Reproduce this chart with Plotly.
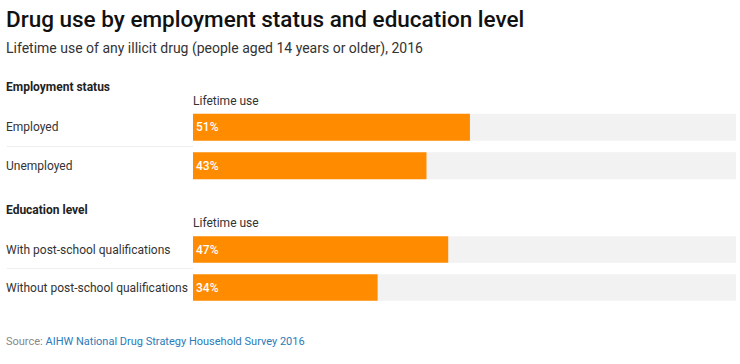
import plotly.graph_objects as go

W, H = 740, 364

emp_categories = ["Employed", "Unemployed"]
emp_values = [51, 43]
edu_categories = ["With post-school qualifications", "Without post-school qualifications"]
edu_values = [47, 34]
max_value = 100
series_name = "Lifetime use"

ORANGE = "#FF8C00"
TRACK = "#F2F2F2"
FONT = "Roboto"
LEFT = 4

def py(px):
    return 1 - px / H

def px_x(px):
    return px / W

fig = go.Figure()

groups = [
    ("x", "y", emp_categories, emp_values),
    ("x2", "y2", edu_categories, edu_values),
]
for xa, ya, cats, vals in groups:
    fig.add_trace(go.Bar(
        y=cats, x=[max_value] * len(cats), orientation="h",
        marker=dict(color=TRACK, line=dict(width=0)),
        xaxis=xa, yaxis=ya, hoverinfo="skip", showlegend=False,
    ))
    fig.add_trace(go.Bar(
        y=cats, x=vals, orientation="h",
        marker=dict(color=ORANGE, line=dict(width=0)),
        text=[f"{v}%" for v in vals], textposition="inside",
        insidetextanchor="start",
        textfont=dict(color="white", size=12, family=FONT, weight=500),
        xaxis=xa, yaxis=ya, showlegend=False, name=series_name,
    ))

x_dom = [px_x(193), px_x(736)]
ax_common = dict(showgrid=False, zeroline=False, showticklabels=False,
                 ticks="", showline=False, fixedrange=True)
fig.update_layout(
    width=W, height=H, margin=dict(l=0, r=0, t=0, b=0),
    paper_bgcolor="white", plot_bgcolor="white",
    barmode="overlay", bargap=0.30,
    font=dict(family=FONT, color="#333"),
    xaxis=dict(domain=x_dom, range=[0, max_value], anchor="y", **ax_common),
    xaxis2=dict(domain=x_dom, range=[0, max_value], anchor="y2", **ax_common),
    yaxis=dict(domain=[py(185), py(108)], autorange="reversed", anchor="x",
               type="category", **ax_common),
    yaxis2=dict(domain=[py(306.5), py(230.5)], autorange="reversed", anchor="x2",
                type="category", **ax_common),
)

ann = []
# title & subtitle
ann.append(dict(text="Drug use by employment status and education level",
                x=px_x(LEFT), y=py(19), xref="paper", yref="paper",
                xanchor="left", yanchor="middle", showarrow=False,
                font=dict(size=22.5, color="#111", family=FONT, weight=500)))
ann.append(dict(text="Lifetime use of any illicit drug (people aged 14 years or older), 2016",
                x=px_x(LEFT), y=py(49), xref="paper", yref="paper",
                xanchor="left", yanchor="middle", showarrow=False,
                font=dict(size=14, color="#333", family=FONT)))
# section headings
for text, ypx in [("Employment status", 87), ("Education level", 210)]:
    ann.append(dict(text=text, x=px_x(LEFT), y=py(ypx), xref="paper", yref="paper",
                    xanchor="left", yanchor="middle", showarrow=False,
                    font=dict(size=12, color="#222", family=FONT, weight=700)))
for ypx in [101, 223]:
    ann.append(dict(text=series_name, x=px_x(191), y=py(ypx), xref="paper", yref="paper",
                    xanchor="left", yanchor="middle", showarrow=False,
                    font=dict(size=12, color="#333", family=FONT)))
# category labels
for ya, cats in [("y", emp_categories), ("y2", edu_categories)]:
    for c in cats:
        ann.append(dict(text=c, x=px_x(LEFT), y=c, xref="paper", yref=ya,
                        xanchor="left", yanchor="middle", showarrow=False,
                        font=dict(size=12, color="#333", family=FONT)))
# source
ann.append(dict(text="Source: <span style='color:#2b7bb9'>AIHW National Drug Strategy Household Survey 2016</span>",
                x=px_x(LEFT), y=py(341), xref="paper", yref="paper",
                xanchor="left", yanchor="middle", showarrow=False,
                font=dict(size=11, color="#888", family=FONT)))
fig.update_layout(annotations=ann)

# separators between rows
shapes = []
for ya in ["y", "y2"]:
    shapes.append(dict(type="line", xref="paper", yref=ya,
                       x0=px_x(7), x1=px_x(193), y0=0.5, y1=0.5,
                       line=dict(color="#EEEEEE", width=1)))
fig.update_layout(shapes=shapes)

fig.write_html("out.html",
               config={"displayModeBar": False},
               post_script="document.body.style.margin='0';")
